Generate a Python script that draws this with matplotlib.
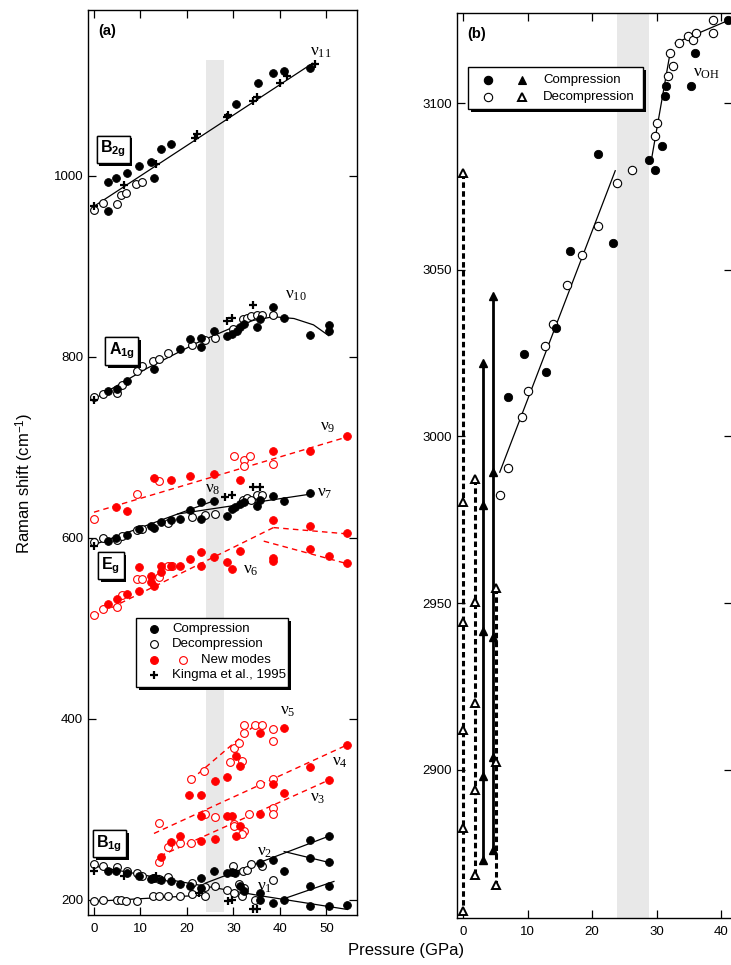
import matplotlib
matplotlib.use("Agg")
import matplotlib.pyplot as plt
from matplotlib.lines import Line2D
from matplotlib.patches import Rectangle
import matplotlib.patheffects as pe

plt.rcParams['font.family'] = ['Liberation Sans', 'DejaVu Sans']
plt.rcParams['mathtext.fontset'] = 'custom'
plt.rcParams['mathtext.rm'] = 'Liberation Serif'
plt.rcParams['mathtext.it'] = 'Liberation Serif:italic'
plt.rcParams['mathtext.bf'] = 'Liberation Sans:bold'
plt.rcParams['mathtext.sf'] = 'Liberation Sans'

# ---------------- Panel (a) data ----------------
# B2g (nu11)
b2g_comp_P = [3.1, 4.7, 3.1, 7.0, 9.6, 12.2, 12.9, 14.4, 16.5, 30.6, 35.2, 38.6, 40.9, 46.4]
b2g_comp_v = [993, 997, 961, 1003, 1011, 1015, 997, 1029, 1035, 1079, 1102, 1113, 1115, 1119]
b2g_dec_P = [0.0, 1.9, 5.0, 5.7, 6.9, 9.1, 10.3]
b2g_dec_v = [962, 970, 969, 979, 981, 991, 993]
b2g_king_P = [0, 6.5, 13.4, 21.8, 22.1, 28.6, 28.9, 34.3, 35.1, 40.1, 41.5, 47.6]
b2g_king_v = [966, 990, 1013, 1042, 1046, 1065, 1067, 1082, 1087, 1102, 1110, 1123]
fit_nu11_P = [0, 47]
fit_nu11_v = [966, 1124]

# A1g (nu10)
a1g_comp_P = [3.1, 4.9, 7.0, 12.9, 18.4, 20.7, 23.0, 23.0, 25.9, 28.6, 29.7, 30.7, 31.5, 32.2,
              35.1, 35.8, 38.5, 40.9, 46.4, 50.5, 50.5]
a1g_comp_v = [762, 764, 773, 786, 808, 819, 821, 811, 828, 823, 825, 828, 833, 836,
              833, 842, 855, 843, 824, 835, 828]
a1g_dec_P = [0, 1.9, 5.0, 6.0, 9.2, 10.3, 12.6, 13.9, 16.0, 21.1, 23.9, 26.1, 30.0, 32.0,
             32.8, 33.8, 35.1, 36.1, 38.6]
a1g_dec_v = [755, 759, 760, 768, 784, 789, 795, 797, 804, 813, 818, 821, 830, 842,
             843, 845, 846, 846, 846]
a1g_king_P = [0, 28.6, 29.7, 34.3]
a1g_king_v = [752, 839, 843, 857]
fit_nu10_P = [0, 11.4, 22.1, 29.3, 34.3, 38.6, 43.0, 47.2, 50.5]
fit_nu10_v = [753, 787, 815, 831, 840, 844, 842, 835, 823]

# Eg (nu7, nu8)
eg_comp_P = [3.1, 4.7, 7.0, 9.6, 12.2, 12.9, 14.4, 16.5, 18.4, 20.7, 23.0, 23.0, 25.9, 28.6,
             29.7, 30.4, 31.5, 32.2, 35.1, 35.8, 38.5, 40.9, 46.4]
eg_comp_v = [596, 599, 603, 609, 613, 611, 617, 619, 620, 630, 639, 620, 640, 624,
             631, 634, 637, 639, 635, 641, 646, 640, 649]
eg_dec_P = [0, 1.9, 5.0, 6.0, 9.2, 10.3, 16.0, 21.1, 23.9, 26.1, 32.0, 32.8, 33.8, 35.1, 36.1]
eg_dec_v = [595, 599, 597, 602, 608, 609, 616, 623, 625, 626, 642, 644, 642, 647, 647]
eg_king_P = [0, 28.2, 29.7, 34.3, 35.8]
eg_king_v = [591, 645, 647, 656, 656]
fit_nu7_P = [0, 18, 46.6]
fit_nu7_v = [592, 626, 648]
fit_nu8_P = [18, 26]
fit_nu8_v = [626, 641]

# New modes nu9
nu9_comp_P = [4.7, 7.0, 12.9, 16.5, 20.7, 25.9, 31.3, 38.5, 46.4, 54.5]
nu9_comp_v = [634, 629, 666, 664, 668, 670, 664, 696, 696, 712]
nu9_dec_P = [0, 9.2, 13.9, 30.2, 32.2, 33.5, 32.2, 38.5]
nu9_dec_v = [621, 648, 662, 690, 686, 690, 679, 681]
fit_nu9_P = [0, 55]
fit_nu9_v = [628, 712]

# New modes nu6
nu6_comp_P = [3.1, 4.9, 7.0, 9.6, 9.6, 12.2, 12.2, 12.9, 14.4, 14.4, 16.5, 18.4, 20.7, 23.0,
              23.0, 25.9, 28.6, 29.7, 31.3, 38.5, 38.5, 38.5, 46.4, 46.4, 50.5, 54.5, 54.5]
nu6_comp_v = [527, 532, 538, 541, 567, 558, 551, 546, 562, 569, 569, 569, 576, 584,
              568, 578, 573, 565, 585, 619, 577, 574, 613, 587, 580, 605, 572]
nu6_dec_P = [0, 1.9, 5.0, 6.0, 9.2, 10.3, 13.9, 16.0, 16.7]
nu6_dec_v = [514, 521, 523, 536, 554, 554, 556, 568, 569]
fit_nu6_P = [0, 38.6]
fit_nu6_v = [513, 611]
fit_nu6b_P = [38.6, 54.5]
fit_nu6b_v = [611, 604]
fit_nu6c_P = [36.5, 54.5]
fit_nu6c_v = [596, 571]

# New modes nu5
nu5_comp_P = [30.6, 31.3, 35.8, 40.9]
nu5_comp_v = [359, 347, 384, 390]
nu5_dec_P = [20.8, 23.7, 30.2, 31.1, 32.2, 32.3, 34.7, 36.1, 38.6, 38.5, 29.3, 31.8]
nu5_dec_v = [333, 342, 367, 373, 384, 393, 393, 393, 388, 375, 352, 353]
fit_nu5_P = [20.8, 34]
fit_nu5_v = [332, 390]

# New modes nu4 / nu3
nu34_comp_P = [20.5, 23.0, 26.0, 28.7, 23.0, 28.7, 29.7, 26.0, 23.0, 18.4, 16.5, 14.4,
               30.6, 31.3, 35.8, 38.6, 40.9, 46.4, 50.5, 54.5]
nu34_comp_v = [316, 316, 331, 335, 292, 292, 292, 267, 265, 270, 264, 247,
               270, 281, 294, 328, 318, 346, 332, 371]
nu34_dec_P = [13.9, 23.9, 26.1, 30.2, 32.2, 31.8, 35.8, 38.6, 33.3, 38.5, 38.5, 18.4,
              20.9, 13.9, 16.0, 30.2]
nu34_dec_v = [285, 295, 291, 284, 276, 272, 328, 333, 295, 301, 294, 263,
              263, 241, 258, 281]
fit_nu4_P = [12.9, 54.5]
fit_nu4_v = [273, 371]
fit_nu3_P = [14.2, 50.5]
fit_nu3_v = [248, 332]

# B1g (nu1, nu2)
b1g_comp_P = [3.1, 4.7, 7.0, 9.6, 12.2, 12.9, 14.4, 16.5, 18.4, 20.7, 23.0, 23.0, 25.9, 28.6,
              29.7, 30.4, 31.3, 32.2, 35.8, 35.8, 35.8, 38.6, 40.9, 40.9, 38.6, 46.4, 46.4,
              46.4, 46.4, 50.5, 50.5, 50.5, 50.5, 54.5]
b1g_comp_v = [232, 231, 229, 226, 223, 224, 222, 220, 217, 215, 213, 224, 232, 229,
              230, 229, 215, 209, 240, 207, 200, 244, 232, 200, 196, 266, 246,
              215, 193, 270, 241, 215, 193, 194]
b1g_dec_P = [0, 1.9, 5.0, 7.0, 9.2, 10.3, 12.6, 13.9, 16.0, 21.1, 23.9, 26.1, 30.0, 32.0,
             32.8, 33.8, 36.1, 38.6, 31.1, 32.2]
b1g_dec_v = [239, 237, 236, 231, 229, 226, 224, 223, 225, 218, 214, 215, 237, 231,
             233, 239, 237, 222, 217, 213]
b1g_low_dec_P = [0, 1.9, 5.0, 5.7, 6.9, 9.2, 12.6, 13.9, 16.0, 18.4, 21.1, 23.9, 28.7, 30.2,
                 31.8, 34.7]
b1g_low_dec_v = [198, 199, 199, 199, 198, 198, 204, 204, 204, 204, 206, 204, 210, 207,
                 204, 199]
b1g_king_P = [0, 6.5, 13.4, 22.5, 28.9, 29.7, 34.3, 35.1]
b1g_king_v = [232, 226, 226, 207, 198, 199, 190, 189]
fit_nu1_P = [0, 22, 36, 54.5]
fit_nu1_v = [237, 216.5, 204, 189]
fit_nu1b_P = [40.9, 51.6]
fit_nu1b_v = [201, 220]
fit_nu1low_P = [0, 24]
fit_nu1low_v = [198, 205]
fit_nu2_P = [23.9, 50.5]
fit_nu2_v = [218, 270]
fit_nu2b_P = [40.9, 50.5]
fit_nu2b_v = [253, 241]

# ---------------- Panel (b) data ----------------
oh_comp_P = [21.0, 23.2, 28.9, 29.8, 30.8, 31.3, 31.4, 35.3, 36.0, 41.1, 16.6, 14.4, 9.5, 12.9, 6.9]
oh_comp_v = [3084.6, 3058, 3083, 3080, 3087, 3102, 3105, 3105, 3115, 3125, 3055.5, 3032.5,
             3024.6, 3019.3, 3011.8]
oh_dec_P = [23.8, 26.2, 29.8, 30.1, 31.8, 32.5, 32.1, 33.5, 34.9, 35.7, 36.1, 38.8, 38.7,
            21.0, 18.4, 16.1, 13.9, 12.7, 10.1, 9.2, 6.9, 5.7]
oh_dec_v = [3076, 3080, 3090, 3094, 3108, 3111, 3115, 3118, 3120, 3119, 3121, 3121, 3125,
            3063, 3054.5, 3045.5, 3033.8, 3027, 3013.6, 3005.8, 2990.6, 2982.4]
fit_oh1_P = [5.7, 23.6]
fit_oh1_v = [2989.3, 3079.7]
fit_oh2_P = [29.3, 32.1]
fit_oh2_v = [3084, 3115]
fit_oh3_P = [32.9, 41.4]
fit_oh3_v = [3118, 3125]

# triangle series (pressure, list of band positions)
tri_dec1_P = 0.0
tri_dec1_v = [3079, 2980.4, 2944.4, 2912, 2882.5, 2857.6]
tri_dec2_P = 1.86
tri_dec2_v = [2987.3, 2950.4, 2920, 2894, 2868.4]
tri_comp1_P = 3.15
tri_comp1_v = [3021.9, 2979.6, 2941.7, 2898.3, 2873]
tri_comp2_P = 4.7
tri_comp2_v = [3042, 2989.3, 2940, 2903.8, 2876]
tri_dec3_P = 5.07
tri_dec3_v = [2954.7, 2902.3, 2865.4]

# ---------------- Figure ----------------
W, H = 731, 965
fig = plt.figure(figsize=(W / 100, H / 100), dpi=100)


def rect(l, t, r, b):
    return [l / W, 1 - b / H, (r - l) / W, (b - t) / H]


def fx(x):
    return x / W


def fy(y):
    return 1 - y / H


axa = fig.add_axes(rect(88, 10, 357, 915))
axb = fig.add_axes(rect(457, 13, 732, 918))

MS = 5.6
RED = '#ff0000'


def filled(ax, P, v, c='black', ms=MS):
    ax.plot(P, v, 'o', ms=ms, mfc=c, mec=c, mew=0.6, ls='none', zorder=3)


def opened(ax, P, v, c='black', ms=MS):
    ax.plot(P, v, 'o', ms=ms, mfc='white', mec=c, mew=0.8, ls='none', zorder=3)


def king(ax, P, v):
    ax.plot(P, v, '+', ms=6, mec='black', mew=1.6, ls='none', zorder=4)


def fit(ax, P, v, c='black', dashed=False):
    if dashed:
        ax.plot(P, v, color=c, lw=1.0, ls=(0, (4, 3)), zorder=2.5)
    else:
        ax.plot(P, v, color=c, lw=0.9, zorder=2.5)


# ---- panel a ----
axa.add_patch(Rectangle((24, 186), 4, 1128 - 186, fc='#e8e8e8', ec='none', zorder=0))

for P, v in [(fit_nu11_P, fit_nu11_v), (fit_nu10_P, fit_nu10_v), (fit_nu7_P, fit_nu7_v),
             (fit_nu8_P, fit_nu8_v), (fit_nu1_P, fit_nu1_v), (fit_nu1b_P, fit_nu1b_v),
             (fit_nu1low_P, fit_nu1low_v), (fit_nu2_P, fit_nu2_v), (fit_nu2b_P, fit_nu2b_v)]:
    fit(axa, P, v)
for P, v in [(fit_nu9_P, fit_nu9_v), (fit_nu6_P, fit_nu6_v), (fit_nu6b_P, fit_nu6b_v),
             (fit_nu6c_P, fit_nu6c_v), (fit_nu5_P, fit_nu5_v), (fit_nu4_P, fit_nu4_v),
             (fit_nu3_P, fit_nu3_v)]:
    fit(axa, P, v, c=RED, dashed=True)

opened(axa, b2g_dec_P, b2g_dec_v)
filled(axa, b2g_comp_P, b2g_comp_v)
king(axa, b2g_king_P, b2g_king_v)
opened(axa, a1g_dec_P, a1g_dec_v)
filled(axa, a1g_comp_P, a1g_comp_v)
king(axa, a1g_king_P, a1g_king_v)
opened(axa, eg_dec_P, eg_dec_v)
filled(axa, eg_comp_P, eg_comp_v)
king(axa, eg_king_P, eg_king_v)
opened(axa, nu9_dec_P, nu9_dec_v, RED)
filled(axa, nu9_comp_P, nu9_comp_v, RED)
opened(axa, nu6_dec_P, nu6_dec_v, RED)
filled(axa, nu6_comp_P, nu6_comp_v, RED)
opened(axa, nu5_dec_P, nu5_dec_v, RED)
filled(axa, nu5_comp_P, nu5_comp_v, RED)
opened(axa, nu34_dec_P, nu34_dec_v, RED)
filled(axa, nu34_comp_P, nu34_comp_v, RED)
opened(axa, b1g_dec_P, b1g_dec_v)
opened(axa, b1g_low_dec_P, b1g_low_dec_v)
filled(axa, b1g_comp_P, b1g_comp_v)
king(axa, b1g_king_P, b1g_king_v)

axa.set_xlim(-1.29, 56.56)
axa.set_ylim(182.9, 1182.9)
axa.set_xticks([0, 10, 20, 30, 40, 50])
axa.set_yticks([200, 400, 600, 800, 1000])

# nu labels
nu_fs = 12.5
for txt, P, v in [(r'$\mathrm{\nu}_{11}$', 46.5, 1132), (r'$\mathrm{\nu}_{10}$', 41.1, 864),
                  (r'$\mathrm{\nu}_{9}$', 48.6, 718), (r'$\mathrm{\nu}_{8}$', 23.9, 650),
                  (r'$\mathrm{\nu}_{7}$', 47.9, 645), (r'$\mathrm{\nu}_{6}$', 32.1, 560),
                  (r'$\mathrm{\nu}_{5}$', 40.0, 404), (r'$\mathrm{\nu}_{4}$', 51.1, 348),
                  (r'$\mathrm{\nu}_{3}$', 46.5, 308), (r'$\mathrm{\nu}_{2}$', 35.0, 249),
                  (r'$\mathrm{\nu}_{1}$', 35.0, 210)]:
    axa.text(P, v, txt, fontsize=nu_fs, ha='left', va='baseline', zorder=5)

# symmetry boxes
for txt, P, v in [(r'$\mathbf{B}_{\mathbf{2g}}$', 4.1, 1029), (r'$\mathbf{A}_{\mathbf{1g}}$', 6.0, 806),
                  (r'$\mathbf{E}_{\mathbf{g}}$', 3.6, 569), (r'$\mathbf{B}_{\mathbf{1g}}$', 3.3, 262)]:
    t = axa.text(P, v, txt, fontsize=11.5, ha='center', va='center', zorder=6,
                 bbox=dict(boxstyle='square,pad=0.22', fc='white', ec='black', lw=1.0))
    t.get_bbox_patch().set_path_effects([
        pe.withSimplePatchShadow(offset=(2, -2), shadow_rgbFace='black', alpha=1.0), pe.Normal()])

# ---- panel b ----
axb.axvspan(23.9, 28.9, fc='#e8e8e8', ec='none', zorder=0)
for P, v in [(fit_oh1_P, fit_oh1_v), (fit_oh2_P, fit_oh2_v), (fit_oh3_P, fit_oh3_v)]:
    fit(axb, P, v)

TMS = 6.2
for P, vs in [(tri_dec1_P, tri_dec1_v), (tri_dec2_P, tri_dec2_v), (tri_dec3_P, tri_dec3_v)]:
    axb.plot([P] * len(vs), vs, color='black', lw=2.2, ls=(0, (1.8, 1.1)), zorder=2)
for P, vs in [(tri_comp1_P, tri_comp1_v), (tri_comp2_P, tri_comp2_v)]:
    axb.plot([P] * len(vs), vs, color='black', lw=2.0, zorder=2)
for P, vs in [(tri_comp1_P, tri_comp1_v), (tri_comp2_P, tri_comp2_v)]:
    axb.plot([P] * len(vs), vs, '^', ms=TMS, mfc='black', mec='black', mew=1.0, ls='none', zorder=3)
for P, vs in [(tri_dec1_P, tri_dec1_v), (tri_dec2_P, tri_dec2_v), (tri_dec3_P, tri_dec3_v)]:
    axb.plot([P] * len(vs), vs, '^', ms=TMS, mfc='white', mec='black', mew=1.4, ls='none', zorder=3)

opened(axb, oh_dec_P, oh_dec_v, ms=6)
filled(axb, oh_comp_P, oh_comp_v, ms=6)
axb.text(35.7, 3108, r'$\mathrm{\nu}_{\mathrm{OH}}$', fontsize=nu_fs, ha='left', va='baseline', zorder=5)

axb.set_xlim(-0.93, 41.7)
axb.set_ylim(2855.6, 3127)
axb.set_xticks([0, 10, 20, 30, 40])
axb.set_yticks([2900, 2950, 3000, 3050, 3100])

for ax in (axa, axb):
    ax.tick_params(direction='in', length=6, width=0.9, top=True, right=True,
                   labelsize=9.5, pad=3.5)
    ax.tick_params(axis='x', pad=6)
    for s in ax.spines.values():
        s.set_linewidth(1.0)

# panel tags
fig.text(fx(98), fy(35), '(a)', fontsize=10.5, fontweight='bold', ha='left', va='baseline')
fig.text(fx(467), fy(38), '(b)', fontsize=10.5, fontweight='bold', ha='left', va='baseline')

# axis labels
fig.text(fx(25), fy(483), r'Raman shift (cm$^{\mathsf{-1}}$)', rotation=90, fontsize=12,
         ha='center', va='center')
fig.text(fx(406), fy(950), 'Pressure (GPa)', fontsize=12, ha='center', va='center')


# ---- manual legends (figure pixel coordinates) ----
def legend_box(l, t, r, b, sh=3):
    fig.add_artist(Rectangle((fx(l + sh), fy(b + sh)), (r - l) / W, (b - t) / H,
                             transform=fig.transFigure, fc='black', ec='black', lw=0, zorder=9))
    fig.add_artist(Rectangle((fx(l), fy(b)), (r - l) / W, (b - t) / H,
                             transform=fig.transFigure, fc='white', ec='black', lw=1.0, zorder=10))


def legend_marker(x, y, marker, fc, ec, ms=MS, mew=0.8):
    fig.add_artist(Line2D([fx(x)], [fy(y)], transform=fig.transFigure, marker=marker, ms=ms,
                          mfc=fc, mec=ec, mew=mew, ls='none', zorder=11))


def legend_text(x, y, s):
    fig.text(fx(x), fy(y), s, fontsize=9.5, ha='left', va='center', zorder=11)


legend_box(136, 618, 288, 687)
legend_marker(154, 629, 'o', 'black', 'black')
legend_text(172, 629, 'Compression')
legend_marker(154, 644, 'o', 'white', 'black')
legend_text(172, 644, 'Decompression')
legend_marker(154, 660, 'o', RED, RED)
legend_marker(183, 660, 'o', 'white', RED)
legend_text(201, 660, 'New modes')
legend_marker(154, 675, '+', 'black', 'black', ms=6, mew=1.6)
legend_text(172, 675, 'Kingma et al., 1995')

legend_box(468, 67, 643, 109)
legend_marker(488, 80, 'o', 'black', 'black', ms=6)
legend_marker(522, 80, '^', 'black', 'black', ms=TMS)
legend_text(543, 80, 'Compression')
legend_marker(488, 97, 'o', 'white', 'black', ms=6)
legend_marker(522, 97, '^', 'white', 'black', ms=TMS, mew=1.4)
legend_text(543, 97, 'Decompression')

fig.savefig('out.png', dpi=100)
